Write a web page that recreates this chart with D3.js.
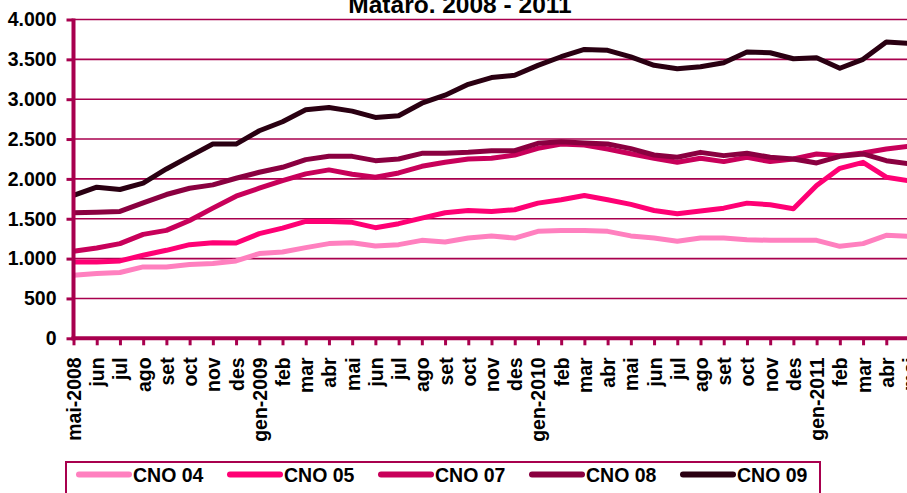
<!DOCTYPE html>
<html>
<head>
<meta charset="utf-8">
<script src="https://cdn.jsdelivr.net/npm/d3@7"></script>
<style>
    body { margin: 0; background: #fff; }
    text { font-family: "Liberation Sans", Arial, sans-serif; font-weight: bold; fill: #000; }
</style>
</head>
<body>
<svg width="907" height="493"></svg>
<script>

var months = ["mai-2008", "jun", "jul", "ago", "set", "oct", "nov", "des",
    "gen-2009", "feb", "mar", "abr", "mai", "jun", "jul", "ago", "set", "oct", "nov", "des",
    "gen-2010", "feb", "mar", "abr", "mai", "jun", "jul", "ago", "set", "oct", "nov", "des",
    "gen-2011", "feb", "mar", "abr", "mai"];

var seriesNames = ["CNO 04", "CNO 05", "CNO 07", "CNO 08", "CNO 09"];
var seriesColors = ["#ff80bf", "#ff0074", "#c8005a", "#8a0040", "#2a0012"];

var cno04 = [792, 813, 825, 896, 896, 925, 938, 971, 1063, 1083, 1138, 1188, 1200, 1158, 1175, 1229, 1208, 1258, 1283, 1258,
    1342, 1354, 1354, 1342, 1285, 1258, 1217, 1258, 1258, 1238, 1229, 1229, 1229, 1154, 1188, 1292, 1280];
var cno05 = [958, 958, 971, 1042, 1104, 1175, 1200, 1196, 1313, 1383, 1467, 1467, 1455, 1388, 1438, 1508, 1575, 1604, 1592, 1613,
    1696, 1738, 1792, 1738, 1680, 1604, 1563, 1596, 1633, 1696, 1675, 1625, 1917, 2133, 2208, 2021, 1975];
var cno07 = [1092, 1133, 1188, 1304, 1354, 1479, 1633, 1783, 1883, 1979, 2063, 2113, 2058, 2021, 2075, 2158, 2208, 2250, 2258, 2300,
    2383, 2438, 2425, 2375, 2315, 2258, 2208, 2258, 2217, 2271, 2217, 2250, 2313, 2292, 2325, 2375, 2410];
var cno08 = [1575, 1583, 1592, 1700, 1804, 1883, 1925, 2008, 2083, 2146, 2242, 2283, 2283, 2229, 2250, 2321, 2321, 2333, 2354, 2354,
    2446, 2467, 2450, 2438, 2380, 2300, 2271, 2333, 2292, 2321, 2271, 2250, 2200, 2283, 2313, 2229, 2190];
var cno09 = [1792, 1896, 1867, 1946, 2125, 2283, 2437, 2437, 2604, 2717, 2867, 2896, 2850, 2771, 2792, 2950, 3050, 3187, 3271, 3300,
    3425, 3533, 3625, 3613, 3530, 3425, 3383, 3408, 3458, 3592, 3583, 3508, 3521, 3388, 3500, 3717, 3700];

var yTicks = [0, 500, 1000, 1500, 2000, 2500, 3000, 3500, 4000];

var svg = d3.select("svg"),
    axisColor = "#a8004e",
    margin = {top: 19.5, left: 73.5},
    plotBottom = 338.3,
    plotRight = 909.5;

var allSeries = [cno04, cno05, cno07, cno08, cno09].map(function(vals, i) {
    return {name: seriesNames[i], color: seriesColors[i], values: vals};
});

var x = d3.scalePoint().domain(d3.range(months.length)).range([margin.left, plotRight]),
    y = d3.scaleLinear().domain([0, 4000]).range([plotBottom, margin.top]);

var locale = d3.formatLocale({decimal: ",", thousands: ".", grouping: [3], currency: ["", ""]});
var fmt = locale.format(",");

// title, partly above the top edge like the original
svg.append("text")
    .attr("x", 460)
    .attr("y", 12.5)
    .attr("text-anchor", "middle")
    .style("font-size", "24.5px")
    .text("Mataró. 2008 - 2011");

// horizontal grid
svg.append("g")
    .selectAll("line")
    .data(yTicks.slice(1))
    .join("line")
    .attr("x1", margin.left)
    .attr("x2", 907)
    .attr("y1", function(d) { return y(d); })
    .attr("y2", function(d) { return y(d); })
    .attr("stroke", axisColor)
    .attr("stroke-width", 1.6);

var yAxis = d3.axisLeft(y).tickValues(yTicks).tickSize(7).tickPadding(10).tickFormat(fmt);

var gy = svg.append("g")
    .attr("transform", "translate(" + margin.left + ",0)")
    .call(yAxis);
gy.select(".domain").remove();
gy.selectAll(".tick line").attr("stroke", axisColor).attr("stroke-width", 3);
gy.selectAll(".tick text").style("font-size", "19.5px");

var xAxis = d3.axisBottom(x).tickSize(7).tickFormat(function(i) { return months[i]; });

var gx = svg.append("g")
    .attr("transform", "translate(0," + plotBottom + ")")
    .call(xAxis);
gx.select(".domain").remove();
gx.selectAll(".tick line").attr("stroke", axisColor).attr("stroke-width", 3);
gx.selectAll(".tick text")
    .style("font-size", "19.5px")
    .attr("text-anchor", "end")
    .attr("transform", "rotate(-90)")
    .attr("x", -19)
    .attr("y", 0)
    .attr("dy", "0.36em");

var line = d3.line()
    .x(function(d, i) { return x(i); })
    .y(function(d) { return y(d); });

svg.append("g")
    .selectAll("path")
    .data(allSeries)
    .join("path")
    .attr("fill", "none")
    .attr("stroke", function(d) { return d.color; })
    .attr("stroke-width", 5)
    .attr("stroke-linejoin", "round")
    .attr("d", function(d) { return line(d.values); });

// axis lines on top
svg.append("line")
    .attr("x1", margin.left).attr("x2", margin.left)
    .attr("y1", margin.top - 1).attr("y2", plotBottom + 2)
    .attr("stroke", axisColor).attr("stroke-width", 4);
svg.append("line")
    .attr("x1", margin.left - 2).attr("x2", 907)
    .attr("y1", plotBottom).attr("y2", plotBottom)
    .attr("stroke", axisColor).attr("stroke-width", 4);

// legend
var legend = svg.append("g");
legend.append("rect")
    .attr("x", 66)
    .attr("y", 462)
    .attr("width", 754)
    .attr("height", 45)
    .attr("fill", "#fff")
    .attr("stroke", axisColor)
    .attr("stroke-width", 2);

var legendX = [79, 230, 381, 532, 683];
var item = legend.selectAll(".item")
    .data(allSeries)
    .join("g")
    .attr("class", "item")
    .attr("transform", function(d, i) { return "translate(" + legendX[i] + ",474.5)"; });

item.append("line")
    .attr("x1", 0).attr("x2", 50)
    .attr("stroke", function(d) { return d.color; })
    .attr("stroke-width", 6)
    .attr("stroke-linecap", "round");

item.append("text")
    .attr("x", 54)
    .attr("dy", "0.36em")
    .style("font-size", "19.5px")
    .text(function(d) { return d.name; });

</script>
</body>
</html>
